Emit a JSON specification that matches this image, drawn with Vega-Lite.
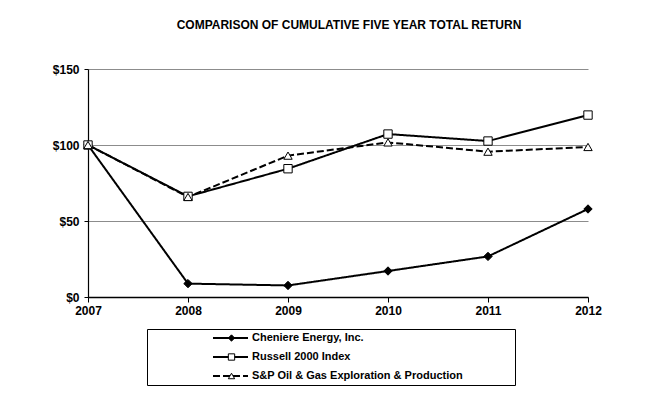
{
  "$schema": "https://vega.github.io/schema/vega-lite/v6.json",
  "autosize": {"type": "none"},
  "width": 500,
  "height": 228,
  "padding": {"left": 88, "top": 69, "right": 84, "bottom": 99},
  "background": "white",
  "title": {
    "text": "COMPARISON OF CUMULATIVE FIVE YEAR TOTAL RETURN",
    "font": "Liberation Sans",
    "fontSize": 12,
    "fontWeight": "bold",
    "color": "black",
    "anchor": "middle",
    "frame": "group",
    "offset": 31,
    "dx": 11
  },
  "config": {
    "view": {"stroke": null},
    "font": "Liberation Sans",
    "axis": {
      "labelFont": "Liberation Sans",
      "labelFontSize": 12,
      "labelFontWeight": "bold",
      "labelColor": "black",
      "domainColor": "black",
      "tickColor": "black",
      "title": null
    },
    "legend": {
      "labelFont": "Liberation Sans",
      "labelFontSize": 11,
      "labelFontWeight": "bold",
      "labelColor": "black",
      "labelLimit": 400
    }
  },
  "data": {
    "values": [
      {"year": 2007, "series": "Cheniere Energy, Inc.", "value": 100},
      {"year": 2008, "series": "Cheniere Energy, Inc.", "value": 8.8},
      {"year": 2009, "series": "Cheniere Energy, Inc.", "value": 7.6},
      {"year": 2010, "series": "Cheniere Energy, Inc.", "value": 17.1},
      {"year": 2011, "series": "Cheniere Energy, Inc.", "value": 26.7},
      {"year": 2012, "series": "Cheniere Energy, Inc.", "value": 57.9},
      {"year": 2007, "series": "Russell 2000 Index", "value": 100},
      {"year": 2008, "series": "Russell 2000 Index", "value": 66.2},
      {"year": 2009, "series": "Russell 2000 Index", "value": 84.4},
      {"year": 2010, "series": "Russell 2000 Index", "value": 107.2},
      {"year": 2011, "series": "Russell 2000 Index", "value": 102.6},
      {"year": 2012, "series": "Russell 2000 Index", "value": 119.7},
      {"year": 2007, "series": "S&P Oil & Gas Exploration & Production", "value": 100},
      {"year": 2008, "series": "S&P Oil & Gas Exploration & Production", "value": 65.8},
      {"year": 2009, "series": "S&P Oil & Gas Exploration & Production", "value": 93},
      {"year": 2010, "series": "S&P Oil & Gas Exploration & Production", "value": 101.7},
      {"year": 2011, "series": "S&P Oil & Gas Exploration & Production", "value": 95.6},
      {"year": 2012, "series": "S&P Oil & Gas Exploration & Production", "value": 98.7}
    ]
  },
  "encoding": {
    "x": {
      "field": "year",
      "type": "ordinal",
      "scale": {"type": "point", "padding": 0},
      "axis": {"labelAngle": 0, "tickSize": 5, "labelPadding": 3, "domainWidth": 1.5, "grid": false}
    },
    "y": {
      "field": "value",
      "type": "quantitative",
      "scale": {"domain": [0, 150], "nice": false},
      "axis": {
        "values": [0, 50, 100, 150],
        "format": "$.0f",
        "tickSize": 4,
        "labelPadding": 5,
        "domainWidth": 1.2,
        "grid": true,
        "gridColor": "#8c8c8c",
        "gridWidth": 1
      }
    }
  },
  "layer": [
    {
      "mark": {"type": "line", "color": "black", "strokeWidth": 2},
      "encoding": {
        "strokeDash": {
          "field": "series",
          "type": "nominal",
          "scale": {"range": [[1, 0], [1, 0], [7, 3]]},
          "legend": {
            "orient": "none",
            "legendX": 59,
            "legendY": 260,
            "padding": 3,
            "strokeColor": "black",
            "symbolType": "stroke",
            "symbolSize": 1225,
            "symbolStrokeWidth": 2,
            "symbolStrokeColor": "black",
            "symbolOffset": 62,
            "labelOffset": 3,
            "clipHeight": 12,
            "rowPadding": 7,
            "title": "\u00a0",
            "titleOrient": "right",
            "titlePadding": 49,
            "zindex": 1
          }
        }
      }
    },
    {
      "transform": [{"calculate": "datum.series", "as": "marker"}],
      "mark": {"type": "point", "filled": false, "strokeWidth": 1, "opacity": 1, "size": 70},
      "encoding": {
        "shape": {
          "field": "marker",
          "type": "nominal",
          "scale": {"range": ["diamond", "square", "triangle-up"]},
          "legend": {
            "orient": "none",
            "legendX": 135,
            "legendY": 260,
            "padding": 3,
            "symbolSize": 40,
            "symbolStrokeWidth": 1,
            "symbolOffset": 0,
            "clipHeight": 12,
            "rowPadding": 7,
            "labelExpr": "''",
            "title": null,
            "zindex": 2
          }
        },
        "fill": {
          "field": "marker",
          "type": "nominal",
          "scale": {"range": ["black", "white", "white"]},
          "legend": {
            "orient": "none",
            "legendX": 135,
            "legendY": 260,
            "padding": 3,
            "symbolSize": 40,
            "symbolStrokeWidth": 1,
            "symbolOffset": 0,
            "clipHeight": 12,
            "rowPadding": 7,
            "labelExpr": "''",
            "title": null,
            "zindex": 2
          }
        },
        "stroke": {
          "field": "marker",
          "type": "nominal",
          "scale": {"range": ["black", "black", "black"]},
          "legend": {
            "orient": "none",
            "legendX": 135,
            "legendY": 260,
            "padding": 3,
            "symbolSize": 40,
            "symbolStrokeWidth": 1,
            "symbolOffset": 0,
            "clipHeight": 12,
            "rowPadding": 7,
            "labelExpr": "''",
            "title": null,
            "zindex": 2
          }
        }
      }
    }
  ]
}
